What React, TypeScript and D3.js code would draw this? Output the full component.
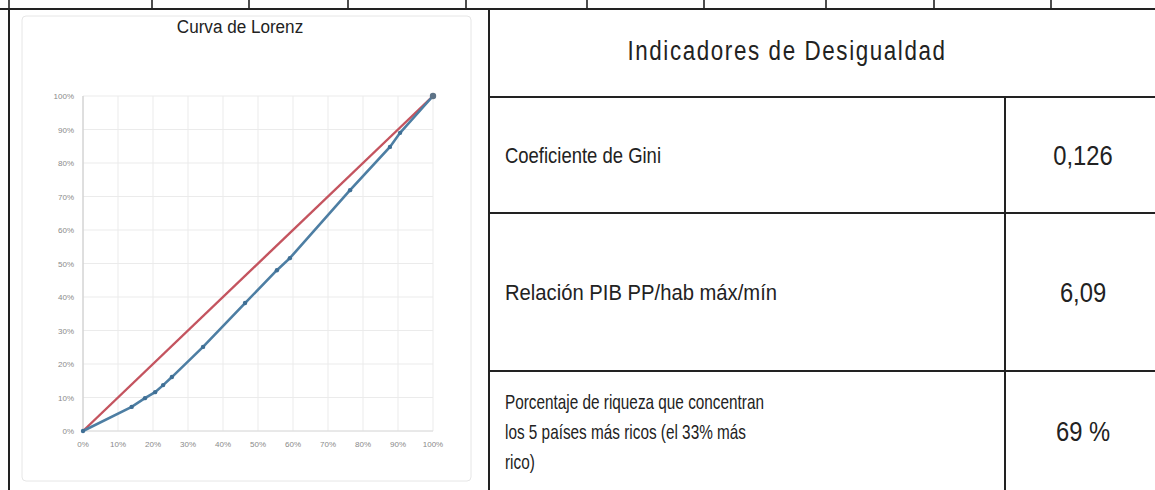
import React from 'react';
import {scaleLinear, line} from 'd3';

// chart + table values
const pctTicks = [0, 0.1, 0.2, 0.3, 0.4, 0.5, 0.6, 0.7, 0.8, 0.9, 1];
const lorenzX = [0, 0.139, 0.177, 0.206, 0.229, 0.254, 0.343, 0.463, 0.554, 0.591, 0.763, 0.877, 0.906, 1];
const lorenzY = [0, 0.072, 0.098, 0.116, 0.137, 0.161, 0.251, 0.382, 0.48, 0.516, 0.719, 0.848, 0.89, 1];
const equalityX = [0, 1];
const equalityY = [0, 1];

const chartTitle = 'Curva de Lorenz';
const tableTitle = 'Indicadores  de Desigualdad';
const indicatorLabels = [
	['Coeficiente de Gini'],
	['Relación PIB PP/hab máx/mín'],
	['Porcentaje de riqueza que concentran', 'los 5 países más ricos (el 33% más', 'rico)']
];
const indicatorValues = ['0,126', '6,09', '69 %'];

const W = 1155, H = 490;
const topEdges = [9, 152, 249, 348, 466, 587, 704, 826, 934, 1051];
const panelX = 9, splitX = 489, valueX = 1005, topY = 9;
const rowLines = [97, 213, 371, H];
// per-row label sizing (the last row is squeezed tighter in the original)
const labelFont = [{size: 22, sx: 0.84}, {size: 22, sx: 0.92}, {size: 21, sx: 0.73}];

const ink = '#222';
const sans = 'Liberation Sans, Arial, sans-serif';

const x = scaleLinear().domain([0, 1]).range([83, 433]);
const y = scaleLinear().domain([0, 1]).range([431, 96]);

const pathGen = line<number[]>()
	.x(d => x(d[0]))
	.y(d => y(d[1]));

const zip = (a: number[], b: number[]) => a.map((v, i) => [v, b[i]]);
const pct = (d: number) => Math.round(d * 100) + '%';

function NText({cx, cy, size, sx, anchor, children, spacing}: any) {
	return (
		<text
			transform={`translate(${cx},${cy}) scale(${sx},1)`}
			fontFamily={sans}
			fontSize={size}
			fill={ink}
			textAnchor={anchor || 'start'}
			letterSpacing={spacing || 0}
		>{children}</text>
	);
}

export default function App() {
	const rowTops = rowLines.slice(0, -1);
	return (
		<svg width={W} height={H} style={{position: 'absolute', left: 0, top: 0, background: '#fff'}}>
			{/* cut-off row on top */}
			{topEdges.map(e =>
				<line key={'te' + e} x1={e} x2={e} y1={0} y2={topY} stroke={ink} strokeWidth={1.6} />
			)}

			{/* chart panel */}
			<rect x={22} y={16} width={449} height={465} rx={4} fill='#fff' stroke='#e6e6e6' />
			<NText cx={240} cy={33} size={19} sx={0.9} anchor='middle'>{chartTitle}</NText>

			<g className='grid'>
				{pctTicks.map(t =>
					<line key={'gx' + t} x1={x(t)} x2={x(t)} y1={y(1)} y2={y(0)} stroke='#ebebeb' />
				)}
				{pctTicks.map(t =>
					<line key={'gy' + t} x1={x(0)} x2={x(1)} y1={y(t)} y2={y(t)} stroke='#ebebeb' />
				)}
				<line x1={x(0)} x2={x(0)} y1={y(1)} y2={y(0)} stroke='#c8c8c8' />
				<line x1={x(0)} x2={x(1)} y1={y(0)} y2={y(0)} stroke='#dcdcdc' />
			</g>

			<g className='ticks' fontFamily={sans} fontSize={8} fill='#8a8a8a'>
				{pctTicks.map(t =>
					<text key={'ty' + t} x={x(0) - 9} y={y(t) + 3} textAnchor='end'>{pct(t)}</text>
				)}
				{pctTicks.map(t =>
					<text key={'tx' + t} x={x(t)} y={y(0) + 16} textAnchor='middle'>{pct(t)}</text>
				)}
			</g>

			<path d={pathGen(zip(equalityX, equalityY)) || ''} fill='none' stroke='#c4545f' strokeWidth={2.4} />
			<path d={pathGen(zip(lorenzX, lorenzY)) || ''} fill='none' stroke='#4d7ea3' strokeWidth={2.6} />
			{lorenzX.map((v, i) =>
				<circle key={'m' + i} cx={x(v)} cy={y(lorenzY[i])} r={i === lorenzX.length - 1 ? 3.2 : 2.2}
					fill={i === lorenzX.length - 1 ? '#5e7387' : '#3f6f95'} />
			)}

			{/* table */}
			<NText cx={787} cy={60} size={28} sx={0.8} anchor='middle' spacing={2}>{tableTitle}</NText>
			{indicatorLabels.map((lines, i) => {
				const mid = (rowTops[i] + rowLines[i + 1]) / 2;
				const lh = 30;
				const start = mid - (lines.length - 1) * lh / 2;
				const f = labelFont[i];
				return lines.map((l, j) =>
					<NText key={'l' + i + j} cx={505} cy={start + j * lh + 8} size={f.size} sx={f.sx}>{l}</NText>
				);
			})}
			{indicatorValues.map((v, i) => {
				const mid = (rowTops[i] + rowLines[i + 1]) / 2;
				return <NText key={'v' + i} cx={1083} cy={mid + 10} size={27} sx={0.88} anchor='middle'>{v}</NText>;
			})}

			<g stroke={ink} strokeWidth={2}>
				<line x1={0} x2={W} y1={topY} y2={topY} />
				<line x1={panelX} x2={panelX} y1={topY} y2={H} />
				<line x1={splitX} x2={splitX} y1={topY} y2={H} />
				{rowLines.slice(0, -1).map(r =>
					<line key={'r' + r} x1={splitX} x2={W} y1={r} y2={r} />
				)}
				<line x1={valueX} x2={valueX} y1={rowLines[0]} y2={H} />
			</g>
		</svg>
	);
}
